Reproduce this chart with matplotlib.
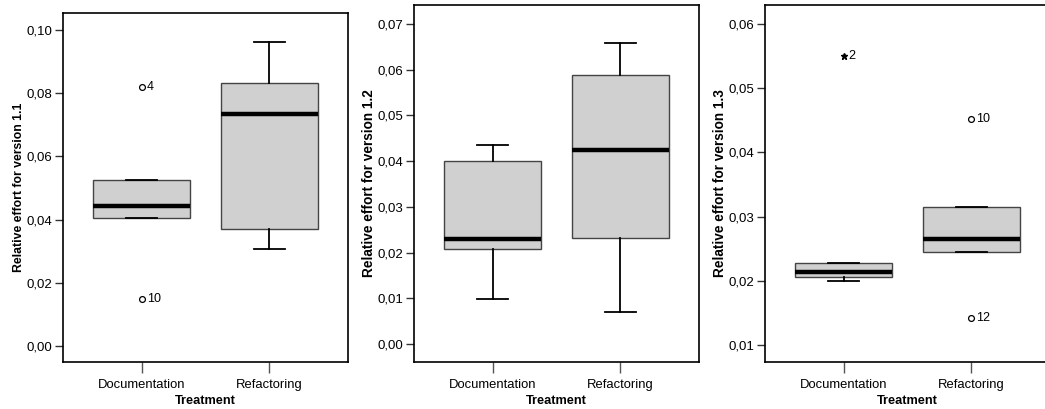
import numpy as np
import matplotlib
matplotlib.use('Agg')
import matplotlib.pyplot as plt
from matplotlib.ticker import FuncFormatter

plt.rcParams['font.family'] = ['Liberation Sans', 'DejaVu Sans']

# --- Datos ---
grupos = ['Documentation', 'Refactoring']

# version 1.1
v11_q1 = [0.0404, 0.0370]
v11_med = [0.0444, 0.0733]
v11_q3 = [0.0525, 0.0831]
v11_lo = [0.0404, 0.0306]
v11_hi = [0.0525, 0.0963]
v11_out_grp = [0, 0]
v11_out_val = [0.0819, 0.0148]
v11_out_id = ['4', '10']
v11_out_tipo = ['o', 'o']

# version 1.2
v12_q1 = [0.0207, 0.0231]
v12_med = [0.0229, 0.0425]
v12_q3 = [0.0401, 0.0589]
v12_lo = [0.0098, 0.0070]
v12_hi = [0.0435, 0.0658]
v12_out_grp = []
v12_out_val = []
v12_out_id = []
v12_out_tipo = []

# version 1.3
v13_q1 = [0.0206, 0.0245]
v13_med = [0.0214, 0.0265]
v13_q3 = [0.0227, 0.0315]
v13_lo = [0.0199, 0.0245]
v13_hi = [0.0227, 0.0315]
v13_out_grp = [0, 1, 1]
v13_out_val = [0.0550, 0.0452, 0.01416]
v13_out_id = ['2', '10', '12']
v13_out_tipo = ['*', 'o', 'o']

paneles = [
    ('1.1', v11_q1, v11_med, v11_q3, v11_lo, v11_hi,
     v11_out_grp, v11_out_val, v11_out_id, v11_out_tipo,
     (-0.0051, 0.1054), np.arange(0, 0.101, 0.02), 8.8),
    ('1.2', v12_q1, v12_med, v12_q3, v12_lo, v12_hi,
     v12_out_grp, v12_out_val, v12_out_id, v12_out_tipo,
     (-0.0039, 0.0741), np.arange(0, 0.0701, 0.01), 9.8),
    ('1.3', v13_q1, v13_med, v13_q3, v13_lo, v13_hi,
     v13_out_grp, v13_out_val, v13_out_id, v13_out_tipo,
     (0.00735, 0.06296), np.arange(0.01, 0.0601, 0.01), 9.8),
]

W, H = 1045, 409
fig = plt.figure(figsize=(W / 100, H / 100), dpi=100)

# posiciones en pixeles: (izq, arriba)
marcos = [(63, 13), (414, 5), (765, 5)]
ancho_px, abajo_px = 285, 362

coma = FuncFormatter(lambda v, p: f'{v:.2f}'.replace('.', ','))

for (izq, arr), panel in zip(marcos, paneles):
    (ver, q1, med, q3, lo, hi, og, ov, oid, otip, ylim, yticks, fs_lab) = panel
    ax = fig.add_axes([izq / W, (H - abajo_px) / H, ancho_px / W, (abajo_px - arr) / H])

    stats = []
    for i in range(2):
        stats.append({'q1': q1[i], 'med': med[i], 'q3': q3[i],
                      'whislo': lo[i], 'whishi': hi[i], 'fliers': []})
    ax.bxp(stats, positions=[1, 2], widths=0.76, patch_artist=True,
           showfliers=False, capwidths=0.24,
           boxprops=dict(facecolor='#d0d0d0', edgecolor='#444444', linewidth=1.0),
           medianprops=dict(color='black', linewidth=3.2, solid_capstyle='butt'),
           whiskerprops=dict(color='black', linewidth=1.3),
           capprops=dict(color='black', linewidth=1.3))

    for g, v, t, m in zip(og, ov, oid, otip):
        x = g + 1
        if m == 'o':
            ax.plot(x, v, 'o', ms=4.2, mfc='white', mec='black', mew=0.9)
        else:
            ax.plot(x, v, '*', ms=5, color='black')
        ax.annotate(t, (x, v), xytext=(3.5, 0), textcoords='offset points',
                    va='center', ha='left', fontsize=9)

    ax.set_xlim(0.383, 2.617)
    ax.set_ylim(*ylim)
    ax.set_yticks(yticks)
    ax.yaxis.set_major_formatter(coma)
    ax.set_xticks([1, 2])
    ax.set_xticklabels(grupos, fontsize=9.4)
    ax.tick_params(axis='y', labelsize=9.5, length=6, width=1.0, color='#333333', pad=1.5)
    ax.tick_params(axis='x', length=8, width=1.0, color='#555555', pad=4)
    for s in ax.spines.values():
        s.set_linewidth(1.2)
    ax.set_xlabel('Treatment', fontsize=9.2, fontweight='bold', labelpad=3)
    ax.set_ylabel(f'Relative effort for version {ver}', fontsize=fs_lab,
                  fontweight='bold', labelpad=1.5)

fig.savefig('out.png', dpi=100)
